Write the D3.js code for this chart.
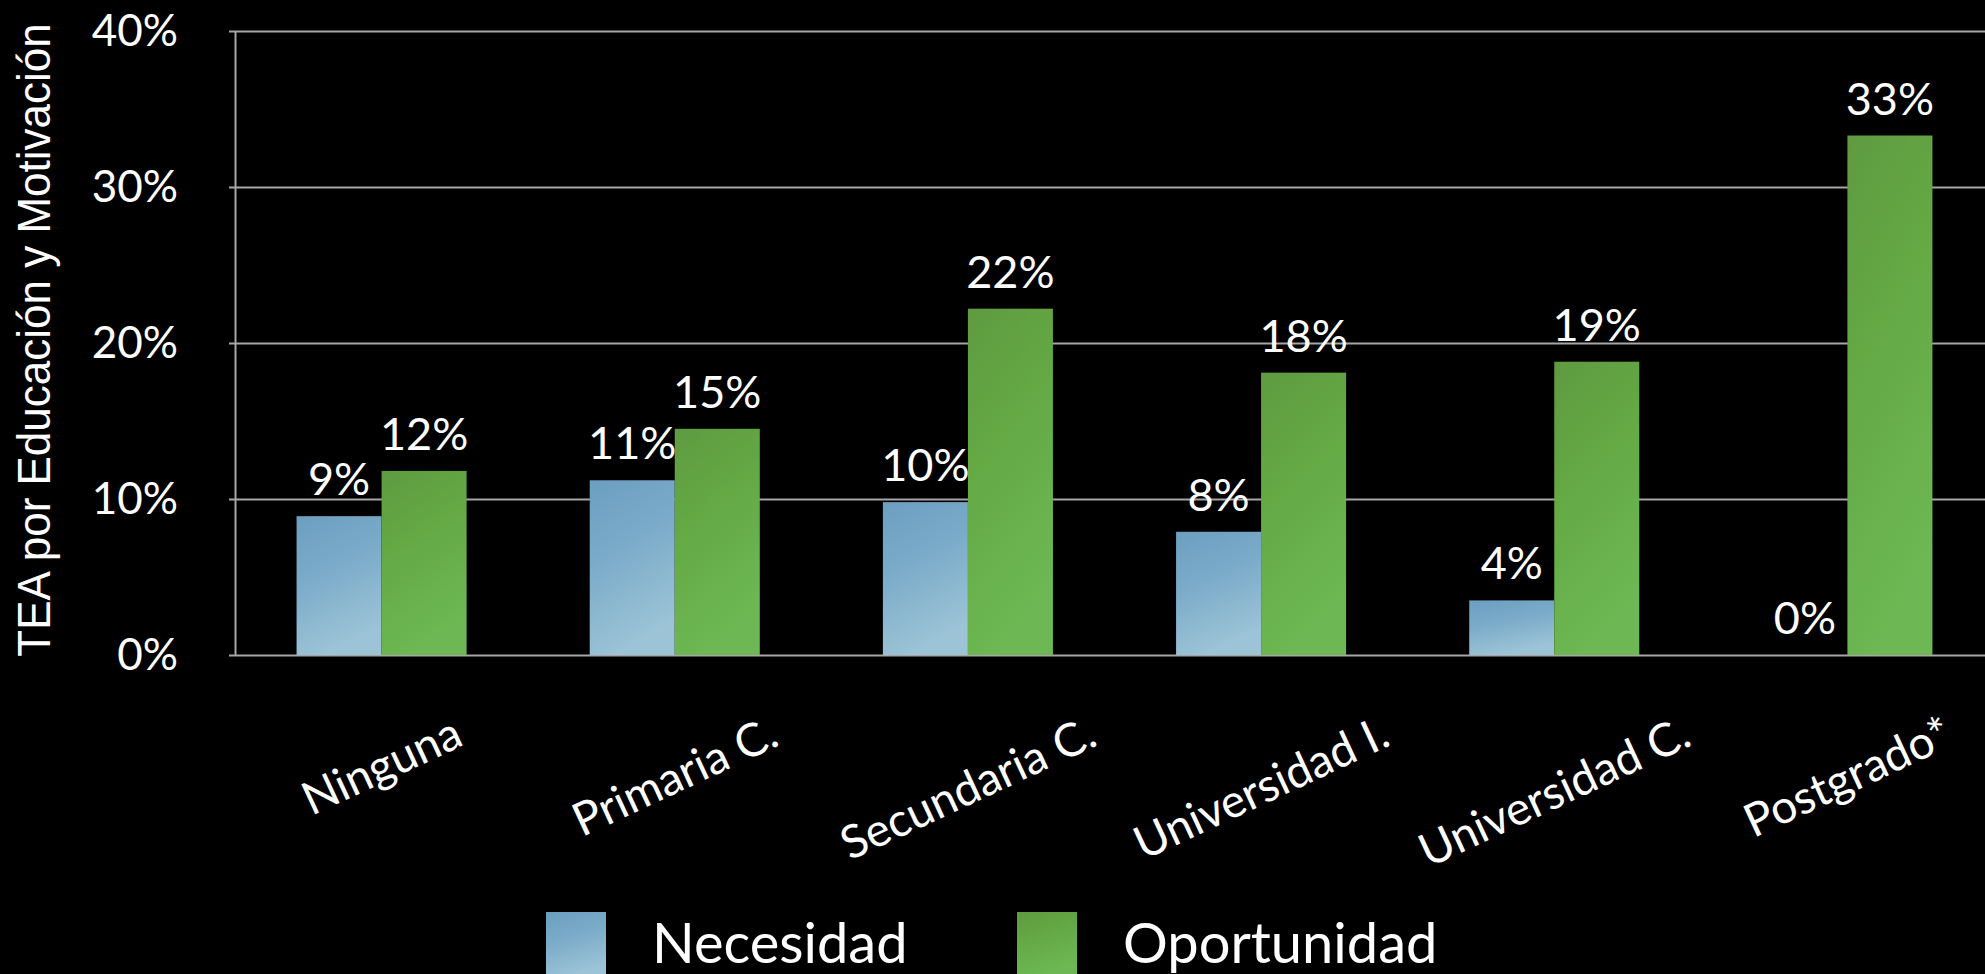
<!DOCTYPE html>
<html>
<head>
<meta charset="utf-8">
<script src="https://cdn.jsdelivr.net/npm/d3@7"></script>
<style>
  body { margin: 0; background: #000; }
  svg { display: block; }
</style>
</head>
<body>
<div id="chart"></div>
<script>
const categories = ['Ninguna', 'Primaria C.', 'Secundaria C.', 'Universidad I.', 'Universidad C.', 'Postgrado*'];
const series = ['Necesidad', 'Oportunidad'];
const necesidad = [8.9, 11.2, 9.8, 7.9, 3.5, 0];
const oportunidad = [11.8, 14.5, 22.2, 18.1, 18.8, 33.3];
const yTicks = [0, 10, 20, 30, 40];

const width = 1985;
const height = 974;
const margin = { top: 31, right: -9, bottom: 319, left: 235 };

const data = categories.map((c, i) => ({
  cat: c,
  values: [
    { key: 'Necesidad', value: necesidad[i] },
    { key: 'Oportunidad', value: oportunidad[i] },
  ],
}));

const svg = d3
  .select('#chart')
  .append('svg')
  .attr('width', width)
  .attr('height', height)
  .style('background', '#000');

// bar textures (rough imitation with gradients)
const defs = svg.append('defs');
const blue = defs.append('linearGradient').attr('id', 'gBlue')
  .attr('x1', 0).attr('y1', 0).attr('x2', 0.3).attr('y2', 1);
blue.append('stop').attr('offset', '0%').attr('stop-color', '#6c9ec0');
blue.append('stop').attr('offset', '45%').attr('stop-color', '#7aabc9');
blue.append('stop').attr('offset', '100%').attr('stop-color', '#9cc3d6');
const green = defs.append('linearGradient').attr('id', 'gGreen')
  .attr('x1', 0).attr('y1', 0).attr('x2', 0.3).attr('y2', 1);
green.append('stop').attr('offset', '0%').attr('stop-color', '#5f9a42');
green.append('stop').attr('offset', '40%').attr('stop-color', '#63a843');
green.append('stop').attr('offset', '100%').attr('stop-color', '#6db854');

const fills = { Necesidad: 'url(#gBlue)', Oportunidad: 'url(#gGreen)' };

const x0 = d3
  .scaleBand()
  .domain(categories)
  .range([margin.left, width - margin.right])
  .paddingInner(0.42)
  .paddingOuter(0.21);

const x1 = d3
  .scaleBand()
  .domain(series)
  .range([0, x0.bandwidth()]);

const y = d3
  .scaleLinear()
  .domain([0, 40])
  .range([height - margin.bottom, margin.top]);

// Gridlines
svg
  .append('g')
  .attr('class', 'grid')
  .attr('transform', `translate(${margin.left},0)`)
  .call(d3.axisLeft(y).tickValues(yTicks).tickSize(-(width - margin.left)).tickFormat(''))
  .call((g) => g.select('.domain').remove())
  .selectAll('line')
  .attr('stroke', '#a6a6a6')
  .attr('stroke-width', 2);

// Y axis
const yAxis = svg
  .append('g')
  .attr('transform', `translate(${margin.left},0)`)
  .call(
    d3.axisLeft(y)
      .tickValues(yTicks)
      .tickSizeInner(6)
      .tickSizeOuter(0)
      .tickPadding(51)
      .tickFormat((d) => d + '%'),
  );
yAxis.select('.domain').attr('stroke', '#a6a6a6').attr('stroke-width', 2);
yAxis.selectAll('line').attr('stroke', '#a6a6a6').attr('stroke-width', 2);
yAxis
  .selectAll('text')
  .attr('fill', '#fff')
  .style('font-family', 'Lato, sans-serif')
  .style('font-size', '44px');

// Y title (slightly condensed look)
svg
  .append('text')
  .attr('transform', 'translate(50,340) rotate(-90) scale(1,1.06)')
  .attr('text-anchor', 'middle')
  .attr('fill', '#fff')
  .style('font-family', '"Liberation Sans", Arial, sans-serif')
  .style('font-size', '44px')
  .text('TEA por Educación y Motivación');

// Bars
const groups = svg
  .selectAll('.group')
  .data(data)
  .enter()
  .append('g')
  .attr('class', 'group')
  .attr('transform', (d) => `translate(${x0(d.cat)},0)`);

groups
  .selectAll('rect')
  .data((d) => d.values)
  .enter()
  .append('rect')
  .attr('x', (d) => x1(d.key))
  .attr('y', (d) => y(d.value))
  .attr('width', x1.bandwidth())
  .attr('height', (d) => y(0) - y(d.value))
  .attr('fill', (d) => fills[d.key]);

// Value labels
groups
  .selectAll('.val')
  .data((d) => d.values)
  .enter()
  .append('text')
  .attr('class', 'val')
  .attr('x', (d) => x1(d.key) + x1.bandwidth() / 2)
  .attr('y', (d) => y(d.value) - 21)
  .attr('text-anchor', 'middle')
  .attr('fill', '#fff')
  .style('font-family', 'Lato, sans-serif')
  .style('font-size', '45px')
  .text((d) => Math.round(d.value) + '%');

// Category labels, rotated
const angle = 25;
const rad = (angle * Math.PI) / 180;
const labelFont = 46;
const labelTop = 709;
svg
  .selectAll('.cat')
  .data(categories)
  .enter()
  .append('text')
  .attr('class', 'cat')
  .attr('text-anchor', 'middle')
  .attr('dy', '0.35em')
  .attr('fill', '#fff')
  .style('font-family', 'Lato, sans-serif')
  .style('font-size', labelFont + 'px')
  .text((d) => d)
  .attr('transform', function (d) {
    const len = this.getComputedTextLength();
    const h = len * Math.sin(rad) + labelFont * Math.cos(rad);
    const cx = x0(d) + x0.bandwidth() / 2;
    return `translate(${cx},${labelTop + h / 2}) rotate(${-angle})`;
  });

// Legend
const legend = svg.append('g');
const legendX = [546, 1017];
series.forEach((s, i) => {
  legend
    .append('rect')
    .attr('x', legendX[i])
    .attr('y', 912)
    .attr('width', 60)
    .attr('height', 66)
    .attr('fill', fills[s]);
  legend
    .append('text')
    .attr('x', legendX[i] + 106)
    .attr('y', 963)
    .attr('fill', '#fff')
    .style('font-family', 'Lato, sans-serif')
    .style('font-size', '56px')
    .text(s);
});
</script>
</body>
</html>
